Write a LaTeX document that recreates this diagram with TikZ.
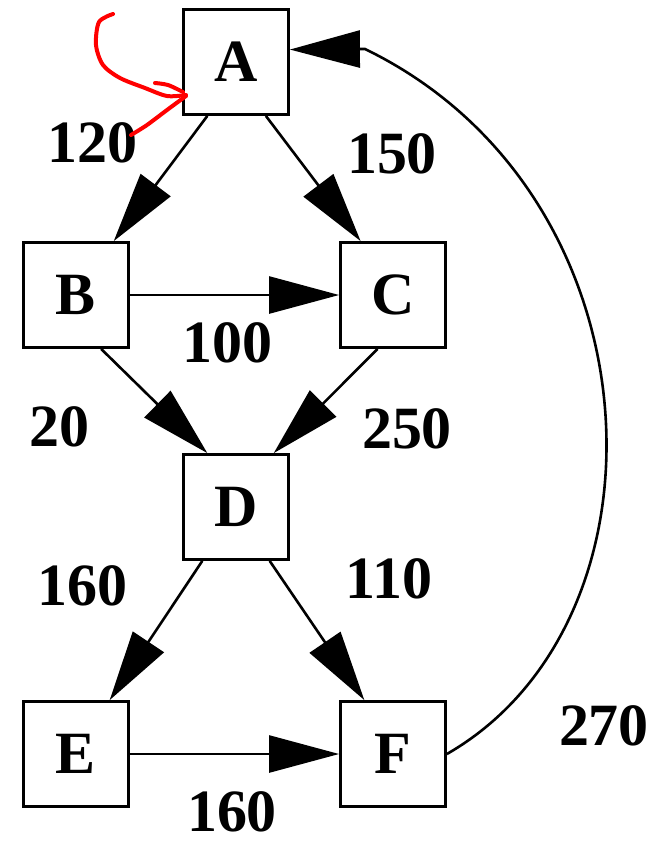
\documentclass[tikz,border=0pt]{standalone}
\usepackage{fontspec}
\setmainfont{Liberation Serif}
\usetikzlibrary{arrows.meta}

\begin{document}
\begin{tikzpicture}[
  x=0.5pt, y=-0.5pt,
  every node/.style={font=\fontsize{30}{36}\selectfont\bfseries},
  box/.style={draw, line width=1.4pt, minimum width=52.5pt, minimum height=52.5pt, inner sep=0pt},
  wt/.style={inner sep=0pt},
  edge/.style={line width=1.3pt, -{Triangle[length=35pt,width=18.5pt]}},
  scribble/.style={red, line width=2pt, line cap=round, line join=round}
]
\useasboundingbox (0,0) rectangle (656,843);
% vertices
\node[box] (A) at (236,62) {A};
\node[box] (B) at (76,295) {B};
\node[box] (C) at (393,295) {C};
\node[box] (D) at (236,507) {D};
\node[box] (E) at (76,754) {E};
\node[box] (F) at (393,754) {F};
% weighted edges
\draw[edge] (A.-118) -- (B.55);
\draw[edge] (A.-61) -- (C.121);
\draw[edge] (B) -- (C);
\draw[edge] (B.-65) -- (D.118);
\draw[edge] (C.-106) -- (D.55);
\draw[edge] (D.-122) -- (E.58);
\draw[edge] (D.-58) -- (F.118);
\draw[edge] (E) -- (F);
\coordinate (back) at (365,49);
\draw[edge] (F.east) .. controls (680,620) and (662,193) .. (back) -- (A.13);
% weights
\node[wt] (wAB) at (92,143) {120};
\node[wt] (wAC) at (392,154) {150};
\node[wt] (wBC) at (228,343) {100};
\node[wt] (wBD) at (60,427) {20};
\node[wt] (wCD) at (407,429) {250};
\node[wt] (wDE) at (83,586) {160};
\node[wt] (wDF) at (389,579) {110};
\node[wt] (wEF) at (232,812) {160};
\node[wt] (wFA) at (604,726) {270};
% red hand mark
\draw[scribble] plot[smooth] coordinates {(113,14) (99,22) (96,45) (103,65) (120,78) (145,88) (167,96) (186,95)};
\draw[scribble] plot[smooth] coordinates {(155,83) (168,85) (183,92)};
\draw[scribble] plot[smooth] coordinates {(186,96) (167,110) (147,125) (131,135)};
\end{tikzpicture}
\end{document}
